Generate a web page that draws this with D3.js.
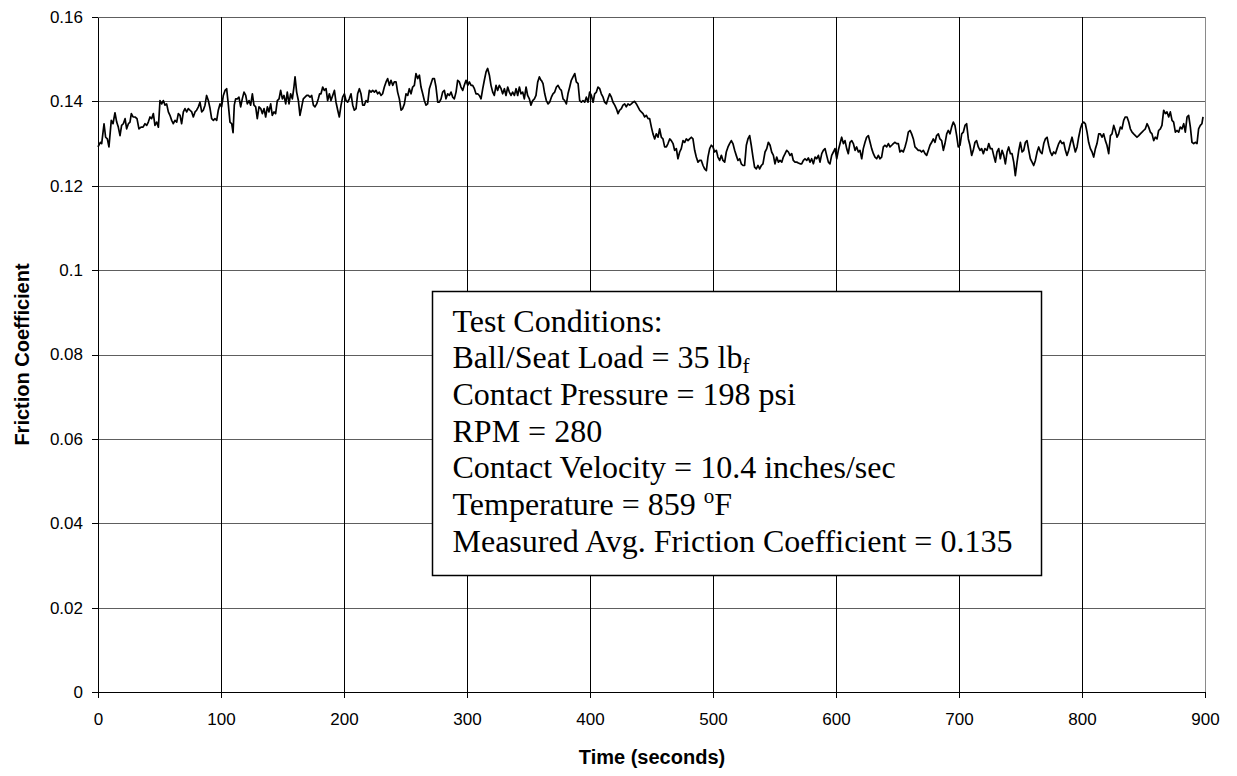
<!DOCTYPE html>
<html>
<head>
<meta charset="utf-8">
<script src="https://cdn.jsdelivr.net/npm/d3@7"></script>
<style>
  html, body { margin: 0; padding: 0; background: #ffffff; }
  svg { display: block; }
</style>
</head>
<body>
<svg id="chart" width="1237" height="776"></svg>
<script>
// Friction coefficient log, ball/seat test (time in seconds)
const timeSec = [
  0,1.9,3.0,4.9,6.2,7.6,8.9,10.8,12.2,13.8,15.2,16.5,17.9,19.2,20.6,22.0,23.3,24.7,26.0,27.1,
  28.5,30.1,31.7,33.3,35.0,36.6,38.2,39.6,40.9,42.3,43.6,45.0,46.3,47.7,49.1,50.4,51.8,53.1,54.5,55.8,
  57.2,58.5,59.9,61.2,62.6,64.0,65.3,66.7,68.0,69.4,70.7,72.1,73.4,74.8,76.2,77.5,78.9,80.2,81.6,82.9,
  84.3,85.6,87.0,88.3,89.7,91.1,92.4,93.8,95.1,96.5,97.8,99.2,100.5,101.9,103.3,104.6,106.0,107.3,108.7,109.8,
  110.8,111.9,113.3,114.6,116.0,117.3,118.7,120.1,121.4,122.8,124.1,125.5,126.8,128.2,129.5,130.9,132.3,133.6,135.0,136.3,
  137.7,139.0,140.4,141.7,143.1,144.4,145.8,147.2,148.5,149.9,151.2,152.6,153.9,155.3,156.6,158.0,159.3,160.2,161.5,162.9,
  164.2,165.6,166.9,168.3,169.7,171.0,172.4,173.7,175.1,176.4,177.8,179.1,180.2,
  181.3,182.7,184.0,185.4,186.7,188.1,189.4,190.8,192.2,193.5,194.9,196.2,197.6,198.9,200.3,201.6,203.0,204.3,205.7,207.1,
  208.4,209.8,211.1,212.5,213.8,215.2,216.5,217.9,219.3,220.6,222.0,223.3,224.7,226.0,227.4,228.7,230.1,231.4,232.8,234.2,
  235.5,236.9,238.2,239.6,240.9,242.3,243.6,245.0,246.4,247.7,249.1,250.4,251.8,253.1,254.5,255.8,257.2,258.5,259.9,261.3,
  262.6,264.0,265.3,266.7,268.0,269.4,270.7,272.1,273.5,274.8,276.2,277.5,278.9,280.2,281.6,282.9,284.3,285.7,287.0,288.4,
  289.7,291.1,292.4,293.8,295.1,296.5,297.8,299.2,300.6,301.9,303.3,304.6,306.0,307.3,308.7,310.0,311.4,312.8,314.1,315.5,
  316.8,318.2,319.5,320.9,322.2,323.6,324.9,326.3,327.7,329.0,330.4,331.7,333.1,334.4,335.8,337.1,338.5,339.9,341.2,342.6,
  343.9,345.3,346.6,348.0,349.3,350.7,352.0,353.4,354.8,356.1,357.5,358.8,360.2,
  360.5,361.8,363.2,364.5,365.9,367.2,368.6,369.9,371.3,372.7,374.0,375.4,376.7,378.1,379.4,380.8,382.1,383.5,384.8,386.2,
  387.6,388.9,390.3,391.6,393.0,394.3,395.7,397.0,398.4,399.7,401.1,402.5,403.8,405.2,406.5,407.9,409.2,410.6,411.9,413.3,
  414.6,416.0,417.4,418.7,420.1,421.4,422.8,424.1,425.5,426.8,428.2,429.5,430.9,432.3,433.6,435.0,436.3,437.7,439.0,440.4,
  441.7,443.1,444.4,445.8,447.2,448.5,449.9,451.2,452.6,453.9,455.3,456.6,458.0,459.3,460.7,462.1,463.4,464.8,466.1,467.5,
  468.8,470.2,471.5,472.9,474.2,475.6,477.0,478.3,479.7,481.0,482.4,483.7,485.1,486.4,487.8,489.1,490.5,491.9,493.2,494.6,
  495.9,497.3,498.6,500.0,501.3,502.7,504.0,505.4,506.8,508.1,509.5,510.8,512.2,513.5,514.9,516.2,517.6,518.9,520.3,521.7,
  523.0,524.4,525.7,527.1,528.4,529.8,531.1,532.5,533.8,535.2,536.6,537.9,539.3,540.6,
  542.3,543.7,545.0,546.4,547.7,549.1,550.4,551.8,553.2,554.5,555.9,557.2,558.6,559.9,561.3,562.6,564.0,565.3,566.7,568.1,
  569.4,570.8,572.1,573.5,574.8,576.2,577.5,578.9,580.2,581.6,583.0,584.3,585.7,587.0,588.4,589.7,591.1,592.4,593.8,595.1,
  596.5,597.9,599.2,600.6,601.9,603.3,604.6,606.0,607.3,608.7,610.0,611.4,612.8,614.1,615.5,616.8,618.2,619.5,620.9,622.2,
  623.6,624.9,626.3,627.7,629.0,630.4,631.7,633.1,634.4,635.8,637.1,638.5,639.8,641.2,642.6,643.9,645.3,646.6,648.0,649.3,
  650.7,652.0,653.4,654.7,656.1,657.5,658.8,660.2,661.5,662.9,664.2,665.6,666.9,668.3,669.6,671.0,672.4,673.7,675.1,676.4,
  677.8,679.1,680.5,681.8,683.2,684.5,685.9,687.3,688.6,690.0,691.3,692.7,694.0,695.4,696.7,698.1,699.4,700.8,702.2,703.5,
  704.9,706.2,707.6,708.9,710.3,711.6,713.0,714.3,715.7,717.1,718.4,719.8,721.1,
  722.8,724.2,725.5,726.9,728.2,729.6,730.9,732.3,733.6,735.0,736.4,737.7,739.1,740.4,741.8,743.1,744.5,745.8,747.2,748.6,
  749.9,751.3,752.6,754.0,755.3,756.7,758.0,759.4,760.7,762.1,763.5,764.8,766.2,767.5,768.9,770.2,771.6,772.9,774.3,775.6,
  777.0,778.4,779.7,781.1,782.4,783.8,785.1,786.5,787.8,789.2,790.5,791.9,793.3,794.6,796.0,797.3,798.7,800.0,801.4,802.7,
  804.1,805.4,806.8,808.2,809.5,810.9,812.2,813.6,814.9,816.3,817.6,819.0,820.3,821.7,823.1,824.4,825.8,827.1,828.5,829.8,
  831.2,832.5,833.9,835.2,836.6,838.0,839.3,840.7,842.0,843.4,844.7,846.1,847.4,848.8,850.1,851.5,852.9,854.2,855.6,856.9,
  858.3,859.6,861.0,862.3,863.7,865.0,866.4,867.8,869.1,870.5,871.8,873.2,874.5,875.9,877.2,878.6,879.9,881.3,882.7,884.0,
  885.4,886.7,888.1,889.4,890.8,892.1,893.5,894.8,896.2,897.5,898.4
];

const frictionCoef = [
  .1292,.1303,.1300,.1347,.1315,.1311,.1292,.1355,.1347,.1373,.1351,.1339,.1319,.1343,.1347,.1359,.1335,.1347,.1351,.1371,
  .1363,.1363,.1359,.1335,.1339,.1339,.1347,.1343,.1351,.1363,.1359,.1371,.1343,.1351,.1339,.1402,.1394,.1402,.1391,.1394,
  .1375,.1367,.1355,.1347,.1355,.1351,.1371,.1367,.1347,.1375,.1383,.1375,.1383,.1379,.1375,.1363,.1375,.1379,.1387,.1398,
  .1375,.1379,.1391,.1414,.1402,.1383,.1359,.1355,.1359,.1355,.1379,.1394,.1387,.1414,.1426,.1430,.1391,.1351,.1347,.1326,
  .1391,.1406,.1406,.1410,.1387,.1406,.1422,.1414,.1394,.1402,.1391,.1418,.1391,.1387,.1359,.1387,.1383,.1371,.1383,.1363,
  .1387,.1375,.1394,.1367,.1375,.1371,.1402,.1406,.1426,.1406,.1414,.1394,.1422,.1394,.1418,.1406,.1434,.1458,.1422,.1402,
  .1367,.1387,.1406,.1410,.1414,.1414,.1410,.1414,.1391,.1387,.1394,.1406,.1418,
  .1418,.1434,.1426,.1430,.1402,.1418,.1402,.1414,.1426,.1398,.1379,.1363,.1391,.1410,.1418,.1402,.1398,.1406,.1418,.1391,
  .1379,.1383,.1418,.1430,.1418,.1391,.1391,.1402,.1398,.1426,.1422,.1426,.1422,.1426,.1418,.1422,.1414,.1418,.1434,.1446,
  .1454,.1438,.1450,.1438,.1446,.1446,.1422,.1406,.1379,.1383,.1394,.1418,.1414,.1430,.1418,.1434,.1438,.1466,.1454,.1462,
  .1434,.1418,.1402,.1391,.1394,.1430,.1442,.1454,.1454,.1434,.1398,.1398,.1406,.1422,.1426,.1406,.1418,.1414,.1422,.1410,
  .1406,.1422,.1450,.1446,.1434,.1426,.1438,.1450,.1438,.1446,.1438,.1438,.1430,.1418,.1418,.1414,.1406,.1430,.1450,.1470,
  .1478,.1462,.1438,.1422,.1414,.1438,.1426,.1438,.1430,.1418,.1430,.1414,.1434,.1422,.1414,.1422,.1414,.1430,.1414,.1434,
  .1418,.1422,.1406,.1434,.1414,.1406,.1391,.1402,.1406,.1414,.1446,.1458,.1450,
  .1450,.1442,.1418,.1402,.1394,.1398,.1410,.1418,.1422,.1434,.1438,.1430,.1426,.1406,.1402,.1394,.1418,.1434,.1450,.1458,
  .1466,.1446,.1442,.1402,.1398,.1402,.1398,.1410,.1398,.1422,.1414,.1398,.1418,.1422,.1434,.1430,.1418,.1410,.1398,.1394,
  .1406,.1418,.1410,.1398,.1391,.1383,.1371,.1379,.1383,.1391,.1394,.1387,.1394,.1391,.1394,.1398,.1400,.1394,.1387,.1379,
  .1375,.1371,.1363,.1367,.1359,.1359,.1339,.1323,.1311,.1323,.1315,.1335,.1315,.1311,.1292,.1292,.1300,.1311,.1307,.1300,
  .1284,.1288,.1264,.1280,.1288,.1307,.1303,.1311,.1307,.1311,.1315,.1311,.1284,.1268,.1256,.1260,.1260,.1248,.1240,.1236,
  .1268,.1288,.1296,.1292,.1280,.1284,.1268,.1260,.1272,.1260,.1256,.1280,.1292,.1300,.1307,.1300,.1284,.1272,.1260,.1264,
  .1252,.1248,.1248,.1296,.1311,.1319,.1296,.1268,.1244,.1240,.1248,.1240,.1248,.1252,
  .1280,.1288,.1303,.1296,.1280,.1272,.1252,.1268,.1256,.1260,.1256,.1268,.1276,.1284,.1280,.1272,.1276,.1260,.1256,.1256,
  .1254,.1252,.1252,.1260,.1264,.1260,.1266,.1256,.1264,.1252,.1268,.1264,.1272,.1256,.1276,.1284,.1288,.1272,.1256,.1252,
  .1272,.1280,.1288,.1264,.1284,.1300,.1315,.1300,.1307,.1288,.1276,.1303,.1307,.1300,.1284,.1292,.1280,.1284,.1264,.1288,
  .1303,.1315,.1319,.1303,.1288,.1276,.1268,.1264,.1272,.1264,.1268,.1292,.1296,.1292,.1300,.1292,.1296,.1300,.1303,.1300,
  .1300,.1280,.1284,.1280,.1292,.1307,.1327,.1331,.1323,.1311,.1292,.1288,.1284,.1284,.1280,.1284,.1276,.1272,.1284,.1296,
  .1303,.1311,.1303,.1319,.1323,.1311,.1307,.1284,.1300,.1323,.1331,.1323,.1339,.1351,.1343,.1319,.1292,.1296,.1323,.1327,
  .1343,.1347,.1311,.1296,.1272,.1284,.1303,.1307,.1292,.1284,.1288,.1276,.1288,
  .1284,.1300,.1288,.1288,.1272,.1256,.1280,.1288,.1264,.1284,.1272,.1252,.1280,.1292,.1276,.1276,.1256,.1224,.1256,.1284,
  .1303,.1280,.1284,.1303,.1307,.1284,.1264,.1256,.1248,.1260,.1280,.1292,.1280,.1276,.1300,.1311,.1315,.1296,.1280,.1272,
  .1280,.1276,.1288,.1300,.1307,.1300,.1303,.1284,.1272,.1284,.1300,.1315,.1296,.1280,.1292,.1315,.1335,.1347,.1351,.1347,
  .1327,.1303,.1288,.1280,.1268,.1288,.1300,.1323,.1323,.1315,.1323,.1307,.1296,.1276,.1319,.1323,.1343,.1331,.1315,.1323,
  .1339,.1335,.1355,.1363,.1363,.1351,.1335,.1327,.1323,.1319,.1315,.1319,.1323,.1327,.1331,.1335,.1347,.1339,.1327,.1323,
  .1307,.1315,.1311,.1331,.1335,.1343,.1379,.1371,.1375,.1363,.1375,.1355,.1351,.1327,.1331,.1327,.1339,.1335,.1347,.1327,
  .1363,.1367,.1339,.1303,.1300,.1303,.1300,.1335,.1343,.1347,.1363
];

const xTickValues = [0, 100, 200, 300, 400, 500, 600, 700, 800, 900];
const yTickValues = [0, 0.02, 0.04, 0.06, 0.08, 0.1, 0.12, 0.14, 0.16];
const yTickLabels = ["0", "0.02", "0.04", "0.06", "0.08", "0.1", "0.12", "0.14", "0.16"];

const xTitle = "Time (seconds)";
const yTitle = "Friction Coefficient";

// Test-condition lines; parts may carry a sub/superscript
const conditionLines = [
  [{ t: "Test Conditions:" }],
  [{ t: "Ball/Seat Load = 35 lb" }, { t: "f", sub: true }],
  [{ t: "Contact Pressure = 198 psi" }],
  [{ t: "RPM = 280" }],
  [{ t: "Contact Velocity = 10.4 inches/sec" }],
  [{ t: "Temperature = 859 " }, { t: "o", sup: true }, { t: "F" }],
  [{ t: "Measured Avg. Friction Coefficient = 0.135" }]
];

// ---- layout ----
const W = 1237, H = 776;
const plot = { left: 98, right: 1205, top: 17, bottom: 692 };

const svg = d3.select("#chart");
const x = d3.scaleLinear().domain([0, 900]).range([plot.left, plot.right]);
const y = d3.scaleLinear().domain([0, 0.16]).range([plot.bottom, plot.top]);
const px = v => Math.round(v) + 0.5;

svg.append("rect").attr("width", W).attr("height", H).attr("fill", "#fff");

// horizontal grid (grey)
svg.append("g").selectAll("line").data(yTickValues.filter(d => d > 0)).join("line")
  .attr("x1", plot.left).attr("x2", plot.right)
  .attr("y1", d => px(y(d))).attr("y2", d => px(y(d)))
  .attr("stroke", "#5e5e5e").attr("stroke-width", 1).attr("shape-rendering", "crispEdges");

// vertical grid (black)
svg.append("g").selectAll("line").data(xTickValues.filter(d => d > 0 && d < 900)).join("line")
  .attr("x1", d => px(x(d))).attr("x2", d => px(x(d)))
  .attr("y1", plot.top).attr("y2", plot.bottom)
  .attr("stroke", "#000").attr("stroke-width", 1).attr("shape-rendering", "crispEdges");

// right border of plot area
svg.append("line")
  .attr("x1", px(x(900))).attr("x2", px(x(900)))
  .attr("y1", plot.top).attr("y2", plot.bottom)
  .attr("stroke", "#8a8a8a").attr("stroke-width", 1).attr("shape-rendering", "crispEdges");

// data line
const series = d3.zip(timeSec, frictionCoef);
svg.append("path")
  .datum(series)
  .attr("fill", "none")
  .attr("stroke", "#000")
  .attr("stroke-width", 1.7)
  .attr("stroke-linejoin", "round")
  .attr("d", d3.line().x(d => x(d[0])).y(d => y(d[1])));

// axes
const yAxis = d3.axisLeft(y).tickValues(yTickValues)
  .tickFormat((d, i) => yTickLabels[i]).tickSizeOuter(0).tickSizeInner(6).tickPadding(9);
const gy = svg.append("g").attr("transform", `translate(${plot.left},0)`).call(yAxis);

const xAxis = d3.axisBottom(x).tickValues(xTickValues)
  .tickFormat(d3.format("d")).tickSizeOuter(0).tickSizeInner(6).tickPadding(15);
const gx = svg.append("g").attr("transform", `translate(0,${plot.bottom})`).call(xAxis);

[gx, gy].forEach(g => {
  g.selectAll("path, line").attr("stroke", "#000").attr("shape-rendering", "crispEdges");
  g.selectAll("text").attr("font-family", "Arial, 'Liberation Sans', sans-serif")
    .attr("font-size", 17).attr("fill", "#000");
});

// axis titles
svg.append("text")
  .attr("x", (plot.left + plot.right) / 2 + 0.5).attr("y", 764)
  .attr("text-anchor", "middle")
  .attr("font-family", "Arial, 'Liberation Sans', sans-serif")
  .attr("font-weight", "bold").attr("font-size", 20)
  .text(xTitle);

svg.append("text")
  .attr("transform", `translate(29,${(plot.top + plot.bottom) / 2}) rotate(-90)`)
  .attr("text-anchor", "middle")
  .attr("font-family", "Arial, 'Liberation Sans', sans-serif")
  .attr("font-weight", "bold").attr("font-size", 20)
  .text(yTitle);

// test-condition box
const box = { x: 432.5, y: 291.5, w: 609, h: 284 };
svg.append("rect")
  .attr("x", box.x).attr("y", box.y).attr("width", box.w).attr("height", box.h)
  .attr("fill", "#fff").attr("stroke", "#000").attr("stroke-width", 1.5);

const txt = svg.append("text")
  .attr("font-family", "'Times New Roman', 'Liberation Serif', serif")
  .attr("font-size", 32).attr("fill", "#000");

conditionLines.forEach((parts, i) => {
  const line = txt.append("tspan").attr("x", box.x + 20).attr("y", box.y + 40 + i * 36.7);
  parts.forEach((p, j) => {
    const s = line.append("tspan").text(p.t);
    if (p.sub) s.attr("font-size", 21).attr("dy", 5);
    if (p.sup) s.attr("font-size", 21).attr("dy", -12);
    const prev = parts[j - 1];
    if (!p.sub && !p.sup && prev) {
      // return to the baseline after a raised or lowered part
      if (prev.sup) s.attr("dy", 12);
      if (prev.sub) s.attr("dy", -5);
    }
  });
});
</script>
</body>
</html>
